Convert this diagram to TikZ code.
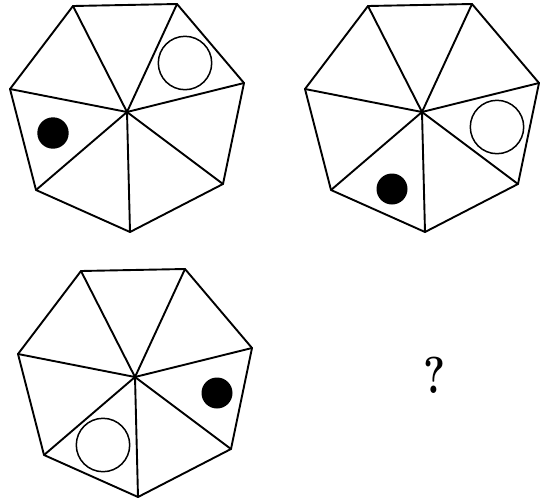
\documentclass[tikz,border=0pt]{standalone}
\begin{document}
\begin{tikzpicture}[x=1pt,y=-1pt,
  edge/.style={line width=1.9pt, line join=round, line cap=round},
  ring/.style={line width=1.5pt},
  dot/.style={fill=black}]
\useasboundingbox (0,0) rectangle (547,499);
\foreach \nm/\dx/\dy in {A/0/0, B/295/0, C/8/265}{
  \begin{scope}[shift={(\dx,\dy)}]
    \coordinate (\nm1) at (73,6);
    \coordinate (\nm2) at (177,4);
    \coordinate (\nm3) at (244,83);
    \coordinate (\nm4) at (223,184);
    \coordinate (\nm5) at (130,232);
    \coordinate (\nm6) at (36,190);
    \coordinate (\nm7) at (10,89);
    \coordinate (\nm0) at (127,112);
    \draw[edge] (\nm1)--(\nm2)--(\nm3)--(\nm4)--(\nm5)--(\nm6)--(\nm7)--cycle;
    \foreach \i in {1,...,7} \draw[edge] (\nm0) -- (\nm\i);
  \end{scope}
}
\draw[ring] (185,63) circle[radius=26.7pt];
\fill[dot] (53,133) circle[radius=15.7pt];
\draw[ring] (497,127) circle[radius=26.7pt];
\fill[dot] (392,189) circle[radius=15.5pt];
\fill[dot] (217,393) circle[radius=15.5pt];
\draw[ring] (103,445) circle[radius=26.7pt];
\node[font=\fontsize{52}{52}\selectfont, xscale=0.8] (q) at (435,375) {\textbf{?}};
\end{tikzpicture}
\end{document}
